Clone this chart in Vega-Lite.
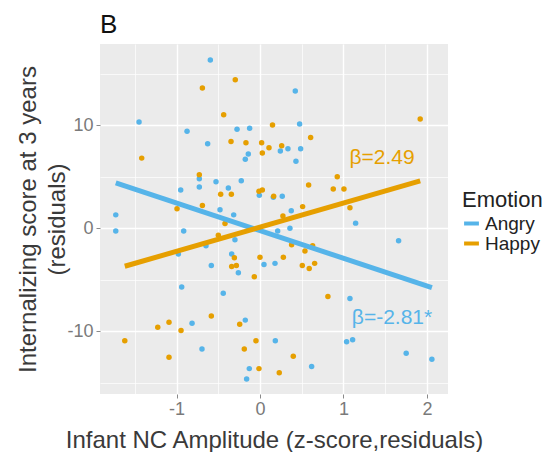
{
  "$schema": "https://vega.github.io/schema/vega-lite/v6.json",
  "autosize": {"type": "none"},
  "padding": {"left": 100, "top": 44, "right": 105, "bottom": 58},
  "width": 348,
  "height": 350,
  "background": "white",
  "title": {"text": "B", "anchor": "start", "frame": "group", "fontSize": 26, "fontWeight": "normal", "font": "Liberation Sans", "color": "#111111", "baseline": "alphabetic", "offset": 11, "dy": 26},
  "config": {
    "view": {"fill": "#EBEBEB", "stroke": null},
    "axis": {"font": "Liberation Sans", "labelFont": "Liberation Sans", "titleFont": "Liberation Sans"},
    "legend": {
      "symbolType": "stroke",
      "symbolStrokeWidth": 4,
      "symbolSize": 220,
      "titleFont": "Liberation Sans",
      "titleFontSize": 22,
      "titleFontWeight": "normal",
      "titleColor": "#222222",
      "titlePadding": 2,
      "labelFont": "Liberation Sans",
      "labelFontSize": 19,
      "labelColor": "#222222",
      "labelOffset": 4,
      "rowPadding": 0
    }
  },
  "datasets": {
    "pts": [
      {"x": -0.595, "y": 16.3, "Emotion": "Angry"},
      {"x": -1.449, "y": 10.3, "Emotion": "Angry"},
      {"x": -0.874, "y": 9.4, "Emotion": "Angry"},
      {"x": -0.275, "y": 9.6, "Emotion": "Angry"},
      {"x": -0.124, "y": 9.7, "Emotion": "Angry"},
      {"x": -0.627, "y": 8.2, "Emotion": "Angry"},
      {"x": -0.14, "y": 7.2, "Emotion": "Angry"},
      {"x": -0.176, "y": 6.7, "Emotion": "Angry"},
      {"x": -0.727, "y": 4.8, "Emotion": "Angry"},
      {"x": -0.527, "y": 4.5, "Emotion": "Angry"},
      {"x": -0.224, "y": 4.6, "Emotion": "Angry"},
      {"x": -0.727, "y": 4.0, "Emotion": "Angry"},
      {"x": -0.95, "y": 3.7, "Emotion": "Angry"},
      {"x": -0.379, "y": 3.9, "Emotion": "Angry"},
      {"x": -0.008, "y": 3.2, "Emotion": "Angry"},
      {"x": 0.16, "y": 3.0, "Emotion": "Angry"},
      {"x": -0.479, "y": 1.8, "Emotion": "Angry"},
      {"x": -0.315, "y": 1.3, "Emotion": "Angry"},
      {"x": -1.728, "y": 1.3, "Emotion": "Angry"},
      {"x": 0.423, "y": 13.3, "Emotion": "Angry"},
      {"x": 0.475, "y": 10.1, "Emotion": "Angry"},
      {"x": 0.244, "y": 7.5, "Emotion": "Angry"},
      {"x": 0.335, "y": 7.7, "Emotion": "Angry"},
      {"x": 0.487, "y": 7.7, "Emotion": "Angry"},
      {"x": 0.431, "y": 6.5, "Emotion": "Angry"},
      {"x": 0.267, "y": 3.1, "Emotion": "Angry"},
      {"x": 0.375, "y": 1.7, "Emotion": "Angry"},
      {"x": 1.146, "y": 0.5, "Emotion": "Angry"},
      {"x": -1.728, "y": -0.26, "Emotion": "Angry"},
      {"x": -0.914, "y": -0.26, "Emotion": "Angry"},
      {"x": -0.3, "y": -1.1, "Emotion": "Angry"},
      {"x": -0.647, "y": -1.7, "Emotion": "Angry"},
      {"x": -0.978, "y": -2.5, "Emotion": "Angry"},
      {"x": -0.339, "y": -2.5, "Emotion": "Angry"},
      {"x": 0.048, "y": -3.5, "Emotion": "Angry"},
      {"x": -0.583, "y": -3.6, "Emotion": "Angry"},
      {"x": -0.259, "y": -4.3, "Emotion": "Angry"},
      {"x": -0.938, "y": -5.7, "Emotion": "Angry"},
      {"x": -0.44, "y": -6.3, "Emotion": "Angry"},
      {"x": -0.814, "y": -9.2, "Emotion": "Angry"},
      {"x": -0.176, "y": -8.9, "Emotion": "Angry"},
      {"x": -0.695, "y": -11.7, "Emotion": "Angry"},
      {"x": -0.128, "y": -13.6, "Emotion": "Angry"},
      {"x": -0.16, "y": -14.6, "Emotion": "Angry"},
      {"x": 1.661, "y": -1.2, "Emotion": "Angry"},
      {"x": 0.212, "y": -0.26, "Emotion": "Angry"},
      {"x": 0.359, "y": 0.0, "Emotion": "Angry"},
      {"x": 0.18, "y": -3.4, "Emotion": "Angry"},
      {"x": 1.078, "y": -6.8, "Emotion": "Angry"},
      {"x": 0.184, "y": -10.9, "Emotion": "Angry"},
      {"x": 1.038, "y": -11.0, "Emotion": "Angry"},
      {"x": 1.11, "y": -10.8, "Emotion": "Angry"},
      {"x": 0.619, "y": -13.4, "Emotion": "Angry"},
      {"x": 1.752, "y": -12.1, "Emotion": "Angry"},
      {"x": 2.06, "y": -12.7, "Emotion": "Angry"},
      {"x": -0.296, "y": 14.4, "Emotion": "Happy"},
      {"x": -0.69, "y": 13.6, "Emotion": "Happy"},
      {"x": -0.435, "y": 11.0, "Emotion": "Happy"},
      {"x": 0.15, "y": 10.0, "Emotion": "Happy"},
      {"x": -1.417, "y": 6.8, "Emotion": "Happy"},
      {"x": -0.347, "y": 8.4, "Emotion": "Happy"},
      {"x": -0.168, "y": 8.3, "Emotion": "Happy"},
      {"x": 0.02, "y": 8.3, "Emotion": "Happy"},
      {"x": 0.108, "y": 7.8, "Emotion": "Happy"},
      {"x": 0.028, "y": 7.3, "Emotion": "Happy"},
      {"x": -0.727, "y": 5.2, "Emotion": "Happy"},
      {"x": -0.471, "y": 3.3, "Emotion": "Happy"},
      {"x": -0.343, "y": 3.3, "Emotion": "Happy"},
      {"x": -0.012, "y": 3.6, "Emotion": "Happy"},
      {"x": 0.028, "y": 3.7, "Emotion": "Happy"},
      {"x": -0.994, "y": 1.9, "Emotion": "Happy"},
      {"x": -0.69, "y": 2.2, "Emotion": "Happy"},
      {"x": 1.92, "y": 10.6, "Emotion": "Happy"},
      {"x": 0.607, "y": 8.8, "Emotion": "Happy"},
      {"x": 0.26, "y": 8.0, "Emotion": "Happy"},
      {"x": 0.926, "y": 5.0, "Emotion": "Happy"},
      {"x": 0.583, "y": 4.2, "Emotion": "Happy"},
      {"x": 0.878, "y": 3.8, "Emotion": "Happy"},
      {"x": 1.006, "y": 3.8, "Emotion": "Happy"},
      {"x": 0.164, "y": 3.1, "Emotion": "Happy"},
      {"x": 0.511, "y": 2.1, "Emotion": "Happy"},
      {"x": 0.275, "y": 1.2, "Emotion": "Happy"},
      {"x": 1.078, "y": 2.0, "Emotion": "Happy"},
      {"x": -0.419, "y": 0.46, "Emotion": "Happy"},
      {"x": -0.499, "y": -0.68, "Emotion": "Happy"},
      {"x": -0.307, "y": -2.85, "Emotion": "Happy"},
      {"x": 0.0, "y": -2.8, "Emotion": "Happy"},
      {"x": -0.283, "y": -3.6, "Emotion": "Happy"},
      {"x": -0.339, "y": -3.7, "Emotion": "Happy"},
      {"x": -0.068, "y": -4.7, "Emotion": "Happy"},
      {"x": -0.583, "y": -8.5, "Emotion": "Happy"},
      {"x": -1.09, "y": -9.1, "Emotion": "Happy"},
      {"x": -1.225, "y": -9.6, "Emotion": "Happy"},
      {"x": -0.946, "y": -9.9, "Emotion": "Happy"},
      {"x": -0.243, "y": -9.3, "Emotion": "Happy"},
      {"x": -1.62, "y": -10.9, "Emotion": "Happy"},
      {"x": -0.188, "y": -11.7, "Emotion": "Happy"},
      {"x": -0.048, "y": -10.9, "Emotion": "Happy"},
      {"x": -1.09, "y": -12.5, "Emotion": "Happy"},
      {"x": -0.012, "y": -13.6, "Emotion": "Happy"},
      {"x": 0.379, "y": -1.6, "Emotion": "Happy"},
      {"x": 0.539, "y": -2.2, "Emotion": "Happy"},
      {"x": 0.631, "y": -1.7, "Emotion": "Happy"},
      {"x": 0.28, "y": -2.8, "Emotion": "Happy"},
      {"x": 0.507, "y": -3.6, "Emotion": "Happy"},
      {"x": 0.59, "y": -3.9, "Emotion": "Happy"},
      {"x": 0.655, "y": -3.4, "Emotion": "Happy"},
      {"x": 0.814, "y": -6.6, "Emotion": "Happy"},
      {"x": 0.399, "y": -12.4, "Emotion": "Happy"},
      {"x": 0.231, "y": -14.0, "Emotion": "Happy"}
    ],
    "fit": [
      {"x": -1.728, "y": 4.4, "Emotion": "Angry"},
      {"x": 2.06, "y": -5.74, "Emotion": "Angry"},
      {"x": -1.62, "y": -3.68, "Emotion": "Happy"},
      {"x": 1.92, "y": 4.59, "Emotion": "Happy"}
    ],
    "ann": [
      {"x": 1.462, "y": 6.81, "label": "β=2.49", "Emotion": "Happy"},
      {"x": 1.582, "y": -8.69, "label": "β=-2.81*", "Emotion": "Angry"}
    ]
  },
  "encoding": {
    "x": {
      "field": "x", "type": "quantitative",
      "scale": {"domain": [-1.917, 2.253], "nice": false, "zero": false},
      "axis": {
        "title": "Infant NC Amplitude (z-score,residuals)",
        "values": [-1.5, -1, -0.5, 0, 0.5, 1, 1.5, 2],
        "labelExpr": "datum.value % 1 === 0 ? toString(datum.value) : ''",
        "domain": false,
        "grid": true,
        "gridColor": "white",
        "gridWidth": {"condition": {"test": "datum.value % 1 !== 0", "value": 0.7}, "value": 1.4},
        "ticks": true,
        "tickSize": 4,
        "tickColor": "#8a8a8a",
        "tickOpacity": {"condition": {"test": "datum.value % 1 !== 0", "value": 0}, "value": 1},
        "labelFontSize": 18,
        "labelColor": "#7a7a7a",
        "labelPadding": 2,
        "titleFontSize": 24,
        "titleFontWeight": "normal",
        "titleColor": "#3a3a3a",
        "titlePadding": 10
      }
    },
    "y": {
      "field": "y", "type": "quantitative",
      "scale": {"domain": [-16.06, 17.86], "nice": false, "zero": false},
      "axis": {
        "title": ["Internalizing score at 3 years", "(residuals)"],
        "values": [-15, -10, -5, 0, 5, 10, 15],
        "labelExpr": "datum.value % 10 === 0 ? toString(datum.value) : ''",
        "domain": false,
        "grid": true,
        "gridColor": "white",
        "gridWidth": {"condition": {"test": "datum.value % 10 !== 0", "value": 0.7}, "value": 1.4},
        "ticks": true,
        "tickSize": 4,
        "tickColor": "#8a8a8a",
        "tickOpacity": {"condition": {"test": "datum.value % 10 !== 0", "value": 0}, "value": 1},
        "labelFontSize": 18,
        "labelColor": "#7a7a7a",
        "labelPadding": 3,
        "titleFontSize": 24,
        "titleFontWeight": "normal",
        "titleColor": "#3a3a3a",
        "titleLineHeight": 29,
        "titlePadding": -3
      }
    }
  },
  "layer": [
    {
      "data": {"name": "pts"},
      "mark": {"type": "point", "filled": true, "size": 30, "opacity": 1, "shape": "circle"},
      "encoding": {
        "color": {"field": "Emotion", "type": "nominal", "scale": {"domain": ["Angry", "Happy"], "range": ["#56B4E9", "#E69F00"]},
          "legend": {"title": "Emotion", "orient": "none", "legendX": 362, "legendY": 146, "symbolType": "stroke"}}
      }
    },
    {
      "data": {"name": "fit"},
      "mark": {"type": "line", "strokeWidth": 5},
      "encoding": {
        "color": {"field": "Emotion", "type": "nominal", "scale": {"domain": ["Angry", "Happy"], "range": ["#56B4E9", "#E69F00"]},
          "legend": {"title": "Emotion", "orient": "none", "legendX": 362, "legendY": 146, "symbolType": "stroke"}}
      }
    },
    {
      "data": {"name": "ann"},
      "mark": {"type": "text", "fontSize": 21, "font": "Liberation Sans", "align": "center", "baseline": "middle"},
      "encoding": {
        "text": {"field": "label"},
        "color": {"field": "Emotion", "type": "nominal", "scale": {"domain": ["Angry", "Happy"], "range": ["#56B4E9", "#E69F00"]},
          "legend": {"title": "Emotion", "orient": "none", "legendX": 362, "legendY": 146, "symbolType": "stroke"}}
      }
    }
  ]
}
